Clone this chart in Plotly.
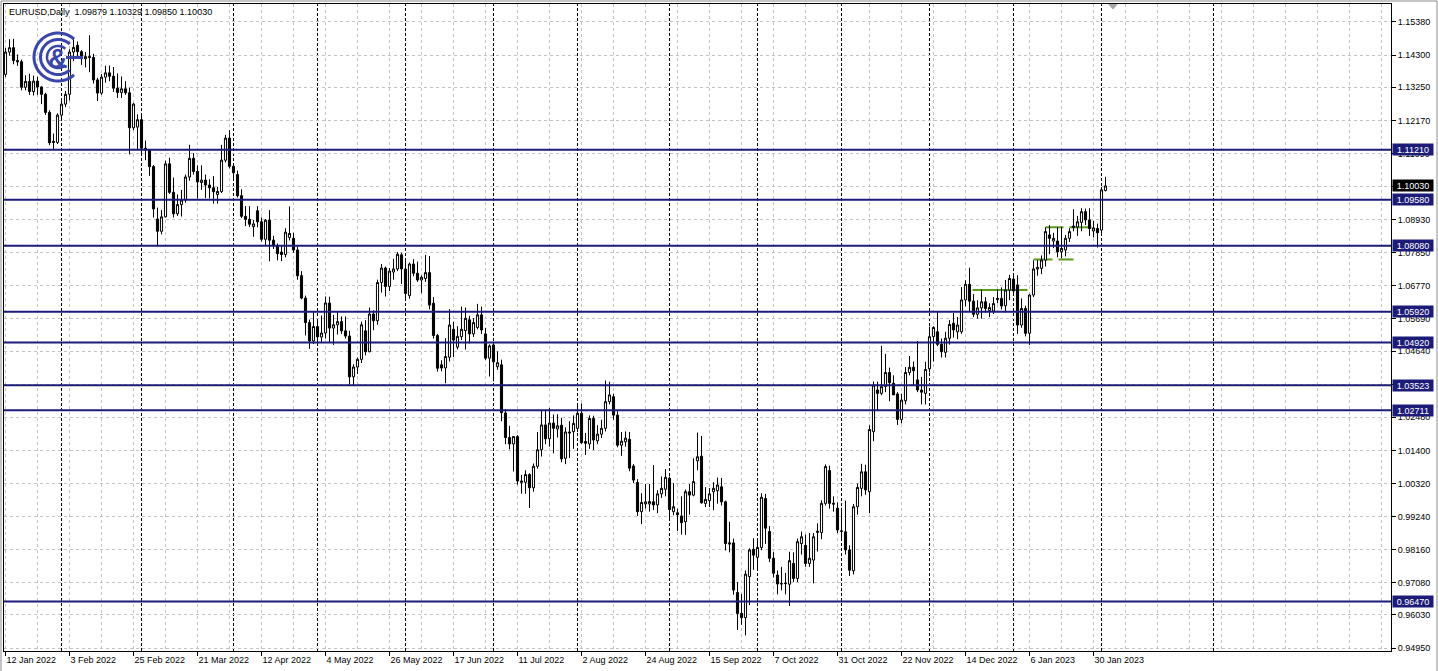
import math
import plotly.graph_objects as go

# ---------------- data ----------------
symbol = "EURUSD"
timeframe = "Daily"

opens = [
    1.1367, 1.1440, 1.1454, 1.1412, 1.1408, 1.1325, 1.1344, 1.1311, 1.1345, 1.1326,
    1.1302, 1.1243, 1.1148, 1.1145, 1.1234, 1.1270, 1.1302, 1.1440, 1.1462, 1.1441,
    1.1418, 1.1425, 1.1422, 1.1349, 1.1306, 1.1358, 1.1372, 1.1361, 1.1322, 1.1308,
    1.1320, 1.1307, 1.1193, 1.1195, 1.1219, 1.1126, 1.1120, 1.1066, 1.0895, 1.0855,
    1.0902, 1.1075, 1.0982, 1.0912, 1.0942, 1.0957, 1.1032, 1.1093, 1.1050, 1.1014,
    1.1022, 1.1006, 1.0997, 1.0975, 1.0985, 1.1087, 1.1159, 1.1067, 1.1040, 1.0971,
    1.0904, 1.0894, 1.0870, 1.0922, 1.0886, 1.0829, 1.0891, 1.0826, 1.0808, 1.0787,
    1.0779, 1.0835, 1.0832, 1.0794, 1.0710, 1.0637, 1.0557, 1.0497, 1.0544, 1.0510,
    1.0523, 1.0621, 1.0539, 1.0550, 1.0560, 1.0530, 1.0513, 1.0380, 1.0412, 1.0437,
    1.0530, 1.0462, 1.0585, 1.0563, 1.0688, 1.0735, 1.0675, 1.0722, 1.0732, 1.0778,
    1.0732, 1.0645, 1.0748, 1.0718, 1.0696, 1.0701, 1.0720, 1.0620, 1.0515, 1.0419,
    1.0409, 1.0444, 1.0535, 1.0477, 1.0511, 1.0531, 1.0566, 1.0520, 1.0541, 1.0582,
    1.0520, 1.0441, 1.0484, 1.0413, 1.0419, 1.0262, 1.0182, 1.0161, 1.0185, 1.0040,
    1.0036, 1.0061, 1.0018, 1.0088, 1.0142, 1.0223, 1.0178, 1.0229, 1.0210, 1.0222,
    1.0114, 1.0200, 1.0201, 1.0212, 1.0261, 1.0169, 1.0161, 1.0244, 1.0171, 1.0193,
    1.0212, 1.0299, 1.0315, 1.0255, 1.0157, 1.0168, 1.0176, 1.0089, 1.0035, 0.9940,
    0.9965, 0.9965, 0.9972, 0.9962, 0.9998, 1.0013, 1.0049, 0.9940, 0.9936, 0.9926,
    0.9907, 1.0005, 0.9994, 1.0106, 1.0121, 0.9967, 0.9976, 1.0005, 1.0008, 1.0021,
    0.9972, 0.9834, 0.9838, 0.9676, 0.9608, 0.9594, 0.9728, 0.9817, 0.9791, 0.9823,
    0.9983, 0.9875, 0.9788, 0.9733, 0.9704, 0.9705, 0.9703, 0.9771, 0.9722, 0.9836,
    0.9830, 0.9771, 0.9782, 0.9872, 0.9872, 0.9967, 1.0074, 0.9964, 0.9951, 0.9875,
    0.9874, 0.9815, 0.9747, 0.9956, 1.0016, 1.0070, 1.0005, 1.0201, 1.0337, 1.0326,
    1.0348, 1.0394, 1.0359, 1.0324, 1.0241, 1.0302, 1.0394, 1.0411, 1.0370, 1.0337,
    1.0326, 1.0406, 1.0511, 1.0527, 1.0486, 1.0460, 1.0506, 1.0555, 1.0527, 1.0527,
    1.0631, 1.0682, 1.0627, 1.0584, 1.0605, 1.0625, 1.0596, 1.0595, 1.0632, 1.0636,
    1.0612, 1.0663, 1.0699, 1.0680, 1.0549, 1.0603, 1.0522, 1.0647, 1.0732, 1.0734,
    1.0761, 1.0843, 1.0823, 1.0823, 1.0788, 1.0794, 1.0832, 1.0872, 1.0869, 1.0884,
    1.0919, 1.0892, 1.0856, 1.0864, 1.0859, 1.09879,
]

highs = [
    1.1453, 1.1482, 1.1483, 1.1432, 1.1415, 1.1364, 1.1369, 1.1363, 1.1359, 1.1328,
    1.1307, 1.1250, 1.1174, 1.1240, 1.1281, 1.1313, 1.1449, 1.1483, 1.1474, 1.1446,
    1.1440, 1.1495, 1.1434, 1.1356, 1.1368, 1.1395, 1.1396, 1.1391, 1.1370, 1.1360,
    1.1345, 1.1324, 1.1274, 1.1237, 1.1234, 1.1151, 1.1122, 1.1071, 1.0932, 1.0924,
    1.1085, 1.1095, 1.1030, 1.0975, 1.0990, 1.1040, 1.1137, 1.1110, 1.1070, 1.1070,
    1.1040, 1.1025, 1.1035, 1.1000, 1.1137, 1.1170, 1.1185, 1.1076, 1.1053, 1.0992,
    1.0937, 1.0937, 1.0892, 1.0937, 1.0900, 1.0895, 1.0924, 1.0840, 1.0815, 1.0807,
    1.0865, 1.0936, 1.0850, 1.0805, 1.0725, 1.0645, 1.0567, 1.0593, 1.0566, 1.0580,
    1.0642, 1.0641, 1.0582, 1.0592, 1.0577, 1.0577, 1.0530, 1.0421, 1.0443, 1.0560,
    1.0565, 1.0606, 1.0597, 1.0697, 1.0748, 1.0740, 1.0735, 1.0765, 1.0787, 1.0785,
    1.0765, 1.0753, 1.0764, 1.0756, 1.0711, 1.0778, 1.0774, 1.0640, 1.0520, 1.0434,
    1.0506, 1.0601, 1.0560, 1.0545, 1.0609, 1.0606, 1.0579, 1.0572, 1.0618, 1.0609,
    1.0540, 1.0486, 1.0487, 1.0463, 1.0436, 1.0275, 1.0220, 1.0186, 1.0190, 1.0060,
    1.0075, 1.0065, 1.0097, 1.0200, 1.0270, 1.0273, 1.0278, 1.0257, 1.0258, 1.0246,
    1.0215, 1.0235, 1.0254, 1.0293, 1.0293, 1.0197, 1.0254, 1.0253, 1.0222, 1.0240,
    1.0368, 1.0364, 1.0325, 1.0268, 1.0200, 1.0202, 1.0200, 1.0095, 1.0046, 1.0000,
    1.0030, 1.0030, 1.0092, 1.0010, 1.0055, 1.0079, 1.0055, 1.0033, 0.9950, 0.9990,
    1.0012, 1.0030, 1.0114, 1.0198, 1.0187, 1.0020, 1.0017, 1.0036, 1.0051, 1.0050,
    0.9976, 0.9907, 0.9852, 0.9710, 0.9671, 0.9748, 0.9820, 0.9853, 0.9850, 1.0000,
    0.9998, 0.9893, 0.9808, 0.9748, 0.9760, 0.9740, 0.9809, 0.9807, 0.9852, 0.9875,
    0.9865, 0.9870, 0.9870, 0.9902, 0.9977, 1.0094, 1.0090, 0.9990, 0.9970, 0.9953,
    0.9976, 0.9830, 0.9965, 1.0032, 1.0096, 1.0093, 1.0222, 1.0365, 1.0364, 1.0481,
    1.0455, 1.0410, 1.0385, 1.0330, 1.0325, 1.0412, 1.0448, 1.0430, 1.0497, 1.0380,
    1.0429, 1.0544, 1.0545, 1.0594, 1.0505, 1.0527, 1.0565, 1.0588, 1.0575, 1.0673,
    1.0695, 1.0736, 1.0650, 1.0630, 1.0665, 1.0640, 1.0620, 1.0640, 1.0665, 1.0672,
    1.0696, 1.0713, 1.0710, 1.0712, 1.0636, 1.0612, 1.0650, 1.0760, 1.0761, 1.0776,
    1.0868, 1.0875, 1.0850, 1.0868, 1.0870, 1.0843, 1.0865, 1.0927, 1.0905, 1.0930,
    1.0929, 1.0930, 1.0889, 1.0880, 1.1000, 1.10329,
]

lows = [
    1.1358, 1.1428, 1.1400, 1.1395, 1.1315, 1.1315, 1.1300, 1.1298, 1.1300, 1.1270,
    1.1235, 1.1136, 1.1121, 1.1140, 1.1220, 1.1260, 1.1282, 1.1410, 1.1421, 1.1398,
    1.1390, 1.1374, 1.1337, 1.1280, 1.1300, 1.1340, 1.1345, 1.1310, 1.1290, 1.1290,
    1.1300, 1.1106, 1.1185, 1.1123, 1.1101, 1.1087, 1.1036, 1.0900, 1.0806, 1.0845,
    1.0900, 1.0977, 1.0900, 1.0905, 1.0903, 1.0948, 1.1020, 1.1040, 1.0962, 1.0990,
    1.0963, 1.0962, 1.0945, 1.0945, 1.0980, 1.1080, 1.1060, 1.1028, 1.0965, 1.0898,
    1.0872, 1.0869, 1.0837, 1.0868, 1.0821, 1.0808, 1.0757, 1.0797, 1.0760, 1.0758,
    1.0770, 1.0825, 1.0785, 1.0697, 1.0633, 1.0515, 1.0471, 1.0487, 1.0490, 1.0492,
    1.0505, 1.0493, 1.0484, 1.0518, 1.0520, 1.0505, 1.0354, 1.0350, 1.0389, 1.0425,
    1.0450, 1.0460, 1.0532, 1.0550, 1.0655, 1.0642, 1.0660, 1.0697, 1.0725, 1.0683,
    1.0627, 1.0635, 1.0708, 1.0690, 1.0653, 1.0690, 1.0600, 1.0505, 1.0397, 1.0398,
    1.0359, 1.0430, 1.0445, 1.0470, 1.0500, 1.0469, 1.0489, 1.0510, 1.0535, 1.0520,
    1.0435, 1.0381, 1.0365, 1.0403, 1.0235, 1.0160, 1.0143, 1.0071, 1.0028, 0.9999,
    0.9998, 0.9952, 1.0005, 1.0080, 1.0120, 1.0160, 1.0152, 1.0130, 1.0182, 1.0101,
    1.0095, 1.0115, 1.0145, 1.0200, 1.0162, 1.0125, 1.0145, 1.0141, 1.0160, 1.0180,
    1.0202, 1.0290, 1.0240, 1.0150, 1.0122, 1.0152, 1.0072, 1.0033, 0.9926, 0.9899,
    0.9950, 0.9940, 0.9945, 0.9935, 0.9985, 0.9990, 0.9910, 0.9928, 0.9877, 0.9865,
    0.9864, 0.9930, 0.9990, 1.0075, 0.9966, 0.9955, 0.9955, 0.9945, 0.9966, 0.9960,
    0.9813, 0.9807, 0.9669, 0.9554, 0.9571, 0.9536, 0.9635, 0.9750, 0.9753, 0.9814,
    0.9835, 0.9775, 0.9725, 0.9670, 0.9683, 0.9670, 0.9632, 0.9710, 0.9710, 0.9800,
    0.9760, 0.9760, 0.9706, 0.9810, 0.9850, 0.9960, 0.9950, 0.9940, 0.9870, 0.9850,
    0.9800, 0.9730, 0.9735, 0.9930, 0.9990, 0.9995, 0.9935, 1.0170, 1.0270, 1.0320,
    1.0330, 1.0300, 1.0330, 1.0223, 1.0228, 1.0290, 1.0385, 1.0350, 1.0330, 1.0290,
    1.0290, 1.0394, 1.0430, 1.0480, 1.0443, 1.0443, 1.0485, 1.0508, 1.0503, 1.0520,
    1.0610, 1.0595, 1.0575, 1.0570, 1.0570, 1.0590, 1.0575, 1.0585, 1.0620, 1.0600,
    1.0590, 1.0630, 1.0650, 1.0520, 1.0540, 1.0512, 1.0484, 1.0640, 1.0710, 1.0715,
    1.0740, 1.0780, 1.0800, 1.0770, 1.0767, 1.0773, 1.0820, 1.0855, 1.0840, 1.0855,
    1.0875, 1.0840, 1.0835, 1.0802, 1.0845, 1.09850,
]

closes = [
    1.1440, 1.1454, 1.1412, 1.1408, 1.1325, 1.1344, 1.1311, 1.1345, 1.1326, 1.1302,
    1.1243, 1.1144, 1.1145, 1.1234, 1.1270, 1.1302, 1.1440, 1.1455, 1.1441, 1.1418,
    1.1425, 1.1422, 1.1349, 1.1306, 1.1358, 1.1372, 1.1361, 1.1322, 1.1308, 1.1320,
    1.1307, 1.1193, 1.1270, 1.1219, 1.1126, 1.1120, 1.1066, 1.0928, 1.0855, 1.0902,
    1.1075, 1.0982, 1.0912, 1.0942, 1.0957, 1.1032, 1.1093, 1.1050, 1.1016, 1.1022,
    1.1006, 1.0997, 1.0984, 1.0985, 1.1087, 1.1159, 1.1067, 1.1046, 1.0971, 1.0904,
    1.0894, 1.0878, 1.0879, 1.0886, 1.0829, 1.0891, 1.0826, 1.0808, 1.0782, 1.0779,
    1.0852, 1.0848, 1.0794, 1.0710, 1.0637, 1.0557, 1.0497, 1.0544, 1.0510, 1.0523,
    1.0621, 1.0539, 1.0550, 1.0560, 1.0530, 1.0513, 1.0380, 1.0412, 1.0437, 1.0550,
    1.0462, 1.0585, 1.0563, 1.0688, 1.0735, 1.0675, 1.0725, 1.0732, 1.0780, 1.0732,
    1.0652, 1.0748, 1.0718, 1.0696, 1.0705, 1.0720, 1.0614, 1.0515, 1.0408, 1.0409,
    1.0446, 1.0549, 1.0500, 1.0512, 1.0535, 1.0571, 1.0520, 1.0557, 1.0582, 1.0533,
    1.0441, 1.0481, 1.0429, 1.0426, 1.0263, 1.0182, 1.0161, 1.0185, 1.0040, 1.0036,
    1.0061, 1.0018, 1.0088, 1.0142, 1.0223, 1.0178, 1.0229, 1.0212, 1.0220, 1.0112,
    1.0200, 1.0197, 1.0228, 1.0261, 1.0165, 1.0163, 1.0244, 1.0174, 1.0193, 1.0212,
    1.0299, 1.0321, 1.0255, 1.0157, 1.0170, 1.0180, 1.0082, 1.0043, 0.9940, 0.9970,
    0.9972, 0.9973, 0.9962, 0.9998, 1.0016, 1.0052, 0.9947, 0.9956, 0.9930, 0.9904,
    1.0005, 0.9994, 1.0038, 1.0119, 0.9969, 0.9980, 0.9998, 1.0016, 1.0027, 0.9972,
    0.9836, 0.9838, 0.9684, 0.9608, 0.9594, 0.9736, 0.9815, 0.9798, 0.9823, 0.9987,
    0.9886, 0.9788, 0.9739, 0.9704, 0.9705, 0.9706, 0.9780, 0.9722, 0.9842, 0.9858,
    0.9771, 0.9788, 0.9858, 0.9876, 0.9967, 1.0087, 0.9967, 0.9967, 0.9880, 0.9877,
    0.9815, 0.9749, 0.9956, 1.0019, 1.0070, 1.0011, 1.0208, 1.0353, 1.0326, 1.0348,
    1.0394, 1.0361, 1.0321, 1.0241, 1.0304, 1.0394, 1.0411, 1.0400, 1.0337, 1.0330,
    1.0404, 1.0511, 1.0541, 1.0486, 1.0462, 1.0506, 1.0551, 1.0533, 1.0549, 1.0631,
    1.0682, 1.0627, 1.0584, 1.0605, 1.0625, 1.0603, 1.0606, 1.0619, 1.0636, 1.0611,
    1.0663, 1.0701, 1.0660, 1.0549, 1.0603, 1.0522, 1.0647, 1.0732, 1.0737, 1.0761,
    1.0854, 1.0832, 1.0832, 1.0788, 1.0799, 1.0832, 1.0854, 1.0867, 1.0886, 1.0919,
    1.0892, 1.0864, 1.0866, 1.0850, 1.0990, 1.10030,
]

date_labels = [
    "12 Jan 2022", "3 Feb 2022", "25 Feb 2022", "21 Mar 2022", "12 Apr 2022",
    "4 May 2022", "26 May 2022", "17 Jun 2022", "11 Jul 2022", "2 Aug 2022",
    "24 Aug 2022", "15 Sep 2022", "7 Oct 2022", "31 Oct 2022", "22 Nov 2022",
    "14 Dec 2022", "6 Jan 2023", "30 Jan 2023",
]
bars_per_label = 16

# first bar of each month (bar numbers), the last one is in the future area
month_starts = [14, 34, 57, 78, 100, 122, 143, 166, 188, 209, 231, 252, 274, 302]

price_ticks = [
    0.94950, 0.96030, 0.97080, 0.98160, 0.99240, 1.00320, 1.01400, 1.02480,
    1.03560, 1.04640, 1.05690, 1.06770, 1.07850, 1.08930, 1.10010, 1.11090,
    1.12170, 1.13250, 1.14300, 1.15380,
]

levels = [1.11210, 1.09580, 1.08080, 1.05920, 1.04920, 1.03523, 1.02711, 0.96470]

green_levels = [1.0663, 1.0763, 1.0763, 1.0868, 1.0868]
green_start = [241.75, 257.0, 263.25, 260.0, 266.0]
green_end = [255.5, 261.75, 267.0, 264.5, 271.5]

# ---------------- geometry ----------------
W, H = 1438, 671
ML, MR, MT, MB = 4, 47, 4, 20
PW = W - ML - MR
PH = H - MT - MB
X_RANGE = [-0.375, 346.375]
Y_RANGE = [0.94852, 1.15967]

FONT = "Liberation Sans, Arial, sans-serif"
NAVY = "#1c1c78"
GRID = "#c3c3c3"


def px2x(px):
    return (px - ML) / PW


def px2y(py):
    return (H - MB - py) / PH


bars = list(range(len(closes)))

fig = go.Figure()
fig.add_trace(go.Candlestick(
    x=bars, open=opens, high=highs, low=lows, close=closes,
    increasing=dict(line=dict(color="black", width=1), fillcolor="white"),
    decreasing=dict(line=dict(color="black", width=1), fillcolor="black"),
    whiskerwidth=0, hoverinfo="skip", showlegend=False,
))

shapes = []
# monthly period separators
for m in month_starts:
    shapes.append(dict(type="line", xref="x", yref="paper", x0=m, x1=m, y0=0, y1=1,
                       line=dict(color="black", width=1, dash="3px,2px"), layer="below"))
# green drawn segments
for lv, s, e in zip(green_levels, green_start, green_end):
    shapes.append(dict(type="line", xref="x", yref="y", x0=s, x1=e, y0=lv, y1=lv,
                       line=dict(color="#5a9c18", width=2), layer="below"))
# horizontal navy levels
for lv in levels:
    shapes.append(dict(type="line", xref="paper", yref="y", x0=0, x1=1, y0=lv, y1=lv,
                       line=dict(color=NAVY, width=2), layer="above"))

# window border
shapes.append(dict(type="rect", xref="paper", yref="paper",
                   x0=px2x(1), x1=px2x(1437), y0=px2y(672), y1=px2y(1),
                   line=dict(color="#8a8a8a", width=1), layer="above"))

# chart shift marker
tri = [(1109, 4.5), (1117, 4.5), (1113, 9)]
shapes.append(dict(type="path", xref="paper", yref="paper",
                   path="M {:.5f},{:.5f} L {:.5f},{:.5f} L {:.5f},{:.5f} Z".format(
                       px2x(tri[0][0]), px2y(tri[0][1]), px2x(tri[1][0]), px2y(tri[1][1]),
                       px2x(tri[2][0]), px2y(tri[2][1])),
                   fillcolor="#a8a8a8", line=dict(color="#a8a8a8", width=1), layer="above"))

# logo rings
LOGO = "#3a46aa"
cx, cy = 58, 57
for r, w in [(24, 3), (17.5, 3), (11, 2.5)]:
    pts = []
    for k in range(0, 53):
        a = math.radians(48 + k * (264 / 52))
        pts.append((px2x(cx + r * math.cos(a)), px2y(cy - r * math.sin(a))))
    path = "M " + " L ".join("{:.5f},{:.5f}".format(p[0], p[1]) for p in pts)
    shapes.append(dict(type="path", xref="paper", yref="paper", path=path,
                       line=dict(color=LOGO, width=w), layer="above"))
shapes.append(dict(type="line", xref="paper", yref="paper",
                   x0=px2x(66), x1=px2x(83), y0=px2y(57.5), y1=px2y(57.5),
                   line=dict(color=LOGO, width=3), layer="above"))

annotations = []
annotations.append(dict(
    xref="paper", yref="paper", x=px2x(58), y=px2y(59), xanchor="center", yanchor="middle",
    text="<b>&amp;</b>", showarrow=False, font=dict(family=FONT, size=27, color=LOGO)))

header = "{},{}\u00a0 {:.5f} {:.5f} {:.5f} {:.5f}".format(
    symbol, timeframe, opens[-1], highs[-1], lows[-1], closes[-1])
annotations.append(dict(
    xref="paper", yref="paper", x=px2x(7), y=px2y(12), xanchor="left", yanchor="middle",
    text=header, showarrow=False, font=dict(family=FONT, size=9, color="black")))

for lv in levels:
    annotations.append(dict(
        xref="paper", yref="y", x=px2x(1392), y=lv, xanchor="left", yanchor="middle",
        text="{:.5f}".format(lv), showarrow=False, bgcolor=NAVY, borderpad=0,
        width=40, height=11, align="center",
        font=dict(family=FONT, size=9, color="white")))

annotations.append(dict(
    xref="paper", yref="y", x=px2x(1392), y=closes[-1], xanchor="left", yanchor="middle",
    text="{:.5f}".format(closes[-1]), showarrow=False, bgcolor="black", borderpad=0,
    width=40, height=11, align="center",
    font=dict(family=FONT, size=9, color="white")))

label_pos = [i * bars_per_label for i in range(len(date_labels))]

fig.update_layout(
    width=W, height=H,
    margin=dict(l=ML, r=MR, t=MT, b=MB, pad=0),
    paper_bgcolor="white", plot_bgcolor="white",
    showlegend=False,
    boxgap=0.25,
    shapes=shapes,
    annotations=annotations,
    xaxis=dict(
        range=X_RANGE, tickmode="array", tickvals=label_pos, ticktext=date_labels,
        ticks="outside", ticklen=4, tickcolor="black", tickwidth=1,
        ticklabelposition="outside right",
        tickfont=dict(family=FONT, size=9, color="black"),
        showline=True, linecolor="black", linewidth=1, mirror=True,
        showgrid=True, gridcolor=GRID, griddash="3px,3px", gridwidth=1,
        minor=dict(tickmode="linear", tick0=0, dtick=8, showgrid=True,
                   gridcolor=GRID, griddash="3px,3px", gridwidth=1, ticks=""),
        zeroline=False, rangeslider=dict(visible=False), fixedrange=True,
    ),
    yaxis=dict(
        side="right", range=Y_RANGE, tickmode="array", tickvals=price_ticks,
        ticktext=["{:.5f}".format(v) for v in price_ticks],
        ticks="outside", ticklen=4, tickcolor="black", tickwidth=1,
        tickfont=dict(family=FONT, size=9, color="black"),
        showline=True, linecolor="black", linewidth=1, mirror=True,
        showgrid=True, gridcolor=GRID, griddash="3px,3px", gridwidth=1,
        zeroline=False, fixedrange=True,
    ),
)

fig.write_html(
    "out.html",
    config={"displayModeBar": False, "responsive": False},
    post_script="document.body.style.margin='0px';document.body.style.overflow='hidden';",
)
